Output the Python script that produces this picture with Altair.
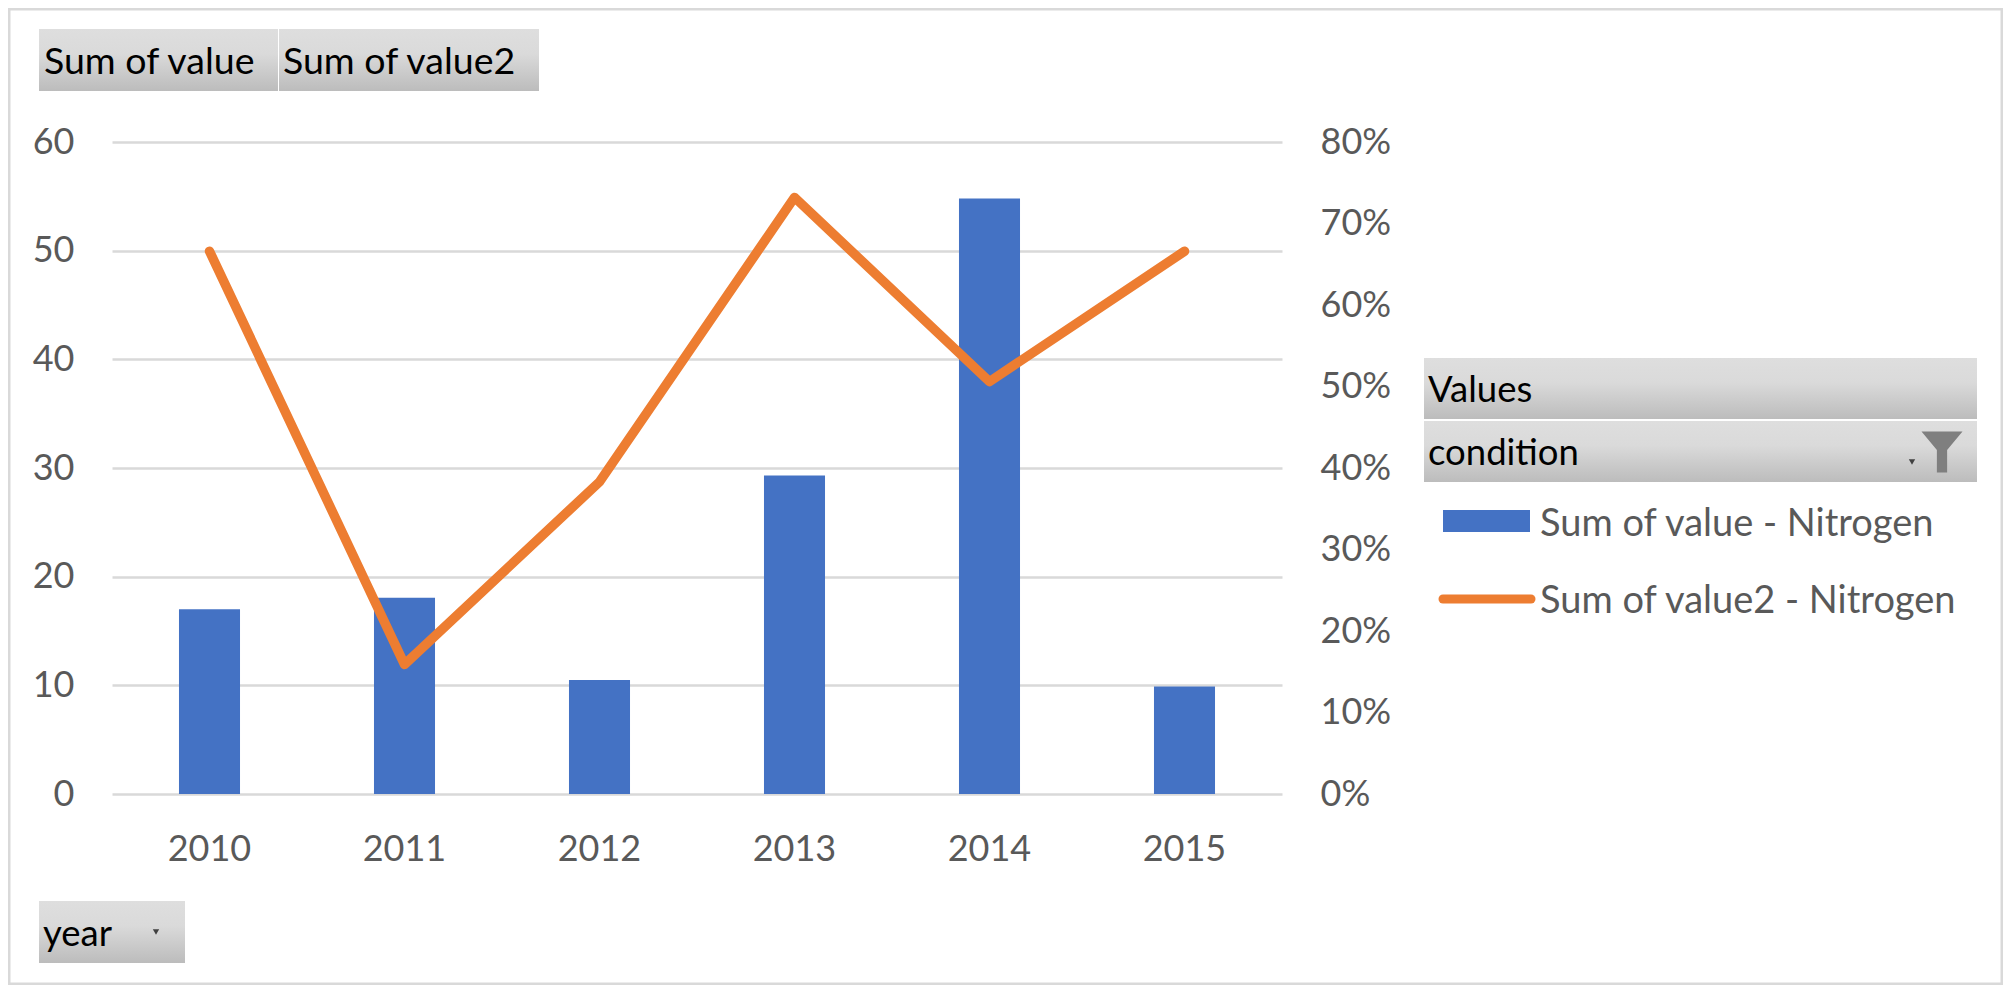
import altair as alt
import pandas as pd

years = ["2010", "2011", "2012", "2013", "2014", "2015"]
sum_value = [17.0, 18.05, 10.5, 29.3, 54.8, 9.9]
sum_value2 = [0.666, 0.159, 0.383, 0.732, 0.506, 0.666]

FONT = "Lato"
GREY = "#595959"
BLUE = "#4472c4"
ORANGE = "#ed7d31"
L, T = 112, 142
W, H = 1170, 652
TICK = 36

df = pd.DataFrame({"year": years, "value": sum_value, "value2": sum_value2})
x_scale = alt.Scale(domain=years, paddingInner=0.687, paddingOuter=0.3435)
x = alt.X("year:N", scale=x_scale, title=None,
          axis=alt.Axis(labelAngle=0, labelFontSize=TICK, labelFont=FONT, labelColor=GREY,
                        labelPadding=38, ticks=False, domain=False, grid=False, labelBaseline="top"))

bars = alt.Chart(df).mark_bar(color=BLUE).encode(
    x=x,
    y=alt.Y("value:Q", scale=alt.Scale(domain=[0, 60]), title=None,
            axis=alt.Axis(values=[0, 10, 20, 30, 40, 50, 60], grid=True, gridColor="#d9d9d9", gridWidth=2.5,
                          ticks=False, domain=False, labelFontSize=TICK, labelFont=FONT, labelColor=GREY,
                          labelPadding=38)),
)
line = alt.Chart(df).mark_line(color=ORANGE, strokeWidth=9.5, strokeCap="round", strokeJoin="round").encode(
    x=x,
    y=alt.Y("value2:Q", scale=alt.Scale(domain=[0, 0.8]), title=None,
            axis=alt.Axis(orient="right", format=".0%", values=[0, .1, .2, .3, .4, .5, .6, .7, .8], grid=False,
                          ticks=False, domain=False, labelFontSize=TICK, labelFont=FONT, labelColor=GREY,
                          labelPadding=38)),
)

grad = alt.LinearGradient(gradient="linear", x1=0, x2=0, y1=0, y2=1,
                          stops=[alt.GradientStop(color="#dedede", offset=0),
                                 alt.GradientStop(color="#dadada", offset=0.4),
                                 alt.GradientStop(color="#bcbcbc", offset=1)])
one = pd.DataFrame({"n": [1]})


def rect(x0, y0, x1, y1, **kw):
    return alt.Chart(one).mark_rect(**kw).encode(
        x=alt.value(x0 - L), x2=alt.value(x1 - L), y=alt.value(y0 - T), y2=alt.value(y1 - T))


def label(s, px, py, color="black", size=37):
    return alt.Chart(pd.DataFrame({"t": [s]})).mark_text(
        align="left", baseline="alphabetic", font=FONT, fontSize=size, color=color).encode(
        x=alt.value(px - L), y=alt.value(py - T), text="t:N")


def symbol(shape, px, py, size, color):
    return alt.Chart(one).mark_point(shape=shape, size=size, filled=True, color=color, opacity=1).encode(
        x=alt.value(px - L), y=alt.value(py - T))


frame = rect(9, 9, 2002, 984, fill="white", fillOpacity=0, stroke="#d9d9d9", strokeWidth=3)
chrome = [
    rect(39, 29, 278, 91, fill=grad), rect(279, 29, 539, 91, fill=grad),
    rect(39, 901, 185, 963, fill=grad),
    rect(1424, 358, 1977, 419, fill=grad), rect(1424, 421, 1977, 482, fill=grad),
    label("Sum of value", 44, 74, size=37.5), label("Sum of value2", 283, 74, size=37.5),
    label("year", 43, 946, size=36.5), label("Values", 1428, 402, size=36.5), label("condition", 1428, 465, size=36.5),
    symbol("triangle-down", 156, 932, 40, "#404040"),
    symbol("triangle-down", 1912, 462, 40, "#404040"),
    symbol("M -1 -1 L 1 -1 L 0.25 -0.1 L 0.25 1 L -0.25 1 L -0.25 -0.1 Z", 1942, 452, 1681, "#7f7f7f"),
    rect(1443, 510, 1530, 532, fill=BLUE),
    alt.Chart(one).mark_rule(color=ORANGE, strokeWidth=9, strokeCap="round").encode(
        x=alt.value(1443 - L), x2=alt.value(1531 - L), y=alt.value(599 - T)),
    label("Sum of value - Nitrogen", 1540, 536, GREY, 38),
    label("Sum of value2 - Nitrogen", 1540, 613, GREY, 38),
]

chart = alt.layer(frame, bars, line, *chrome).resolve_scale(y="independent").properties(
    width=W, height=H,
    autosize=alt.AutoSizeParams(type="none"),
    padding={"left": L - 8, "top": T - 8, "right": 1995 - (L - 8) - W, "bottom": 977 - (T - 8) - H},
).configure_view(stroke=None)

chart.save("out.html", embed_options={"renderer": "svg", "actions": False})
